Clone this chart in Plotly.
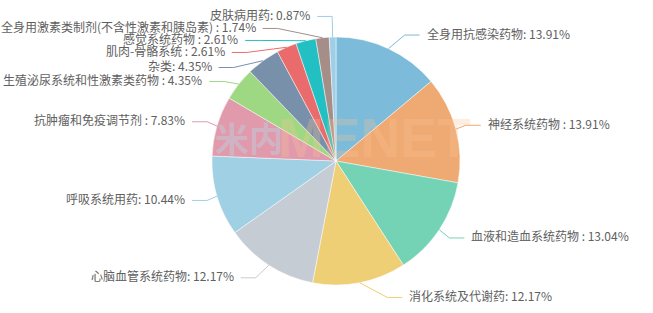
import math
import plotly.graph_objects as go

# ---------------- data ----------------
categories = [
    "全身用抗感染药物", "神经系统药物 ", "血液和造血系统药物 ", "消化系统及代谢药",
    "心脑血管系统药物", "呼吸系统用药", "抗肿瘤和免疫调节剂 ", "生殖泌尿系统和性激素类药物 ",
    "杂类", "肌肉-骨骼系统 ", "感觉系统药物 ", "全身用激素类制剂(不含性激素和胰岛素) ", "皮肤病用药",
]
shares = [13.91, 13.91, 13.04, 12.17, 12.17, 10.44, 7.83, 4.35, 4.35, 2.61, 2.61, 1.74, 0.87]
colors = [
    "#7cbbd9", "#eeaa72", "#75d3b5", "#eecf76", "#c6ccd3", "#9fd0e3", "#e19aac",
    "#9ed883", "#7890aa", "#ea6b6b", "#22bfc3", "#a68e88", "#9ecfe6",
]

# ---------------- geometry ----------------
W, H = 653, 313
CX, CY, R = 336, 161, 124
LEN1, LEN2, DIST, LABEL_H = 15, 15, 5, 12
TEXT_OFFSET = -2
TEXT_COLOR = "#606060"
FONT = "Noto Sans CJK SC, Microsoft YaHei, sans-serif"


def px(x):
    return x / W


def py(y):
    return 1 - y / H


total = sum(shares)
items = []
acc = 0.0
for name, v, c in zip(categories, shares, colors):
    mid = (acc + v / 2) / total * 2 * math.pi
    acc += v
    sx, cy_ = math.sin(mid), -math.cos(mid)
    x1, y1 = CX + R * sx, CY + R * cy_
    x2, y2 = CX + (R + LEN1) * sx, CY + (R + LEN1) * cy_
    d = -1 if sx < 0 else 1
    x3 = x2 + d * LEN2
    items.append(dict(text=f"{name}: {v:.2f}%", color=c, x1=x1, y1=y1,
                      x=x3 + d * DIST, y=y2, dir=d))


def adjust_side(lst, d):
    lst.sort(key=lambda it: it["y"])
    n = len(lst)
    if n == 0:
        return

    def shift_up(end, delta):
        for j in range(end, -1, -1):
            if lst[j]["y"] - delta < 0:
                break
            lst[j]["y"] -= delta
            if j > 0 and lst[j]["y"] > lst[j - 1]["y"] + LABEL_H:
                break

    def shift_down(start, end, delta):
        for j in range(start, end):
            if lst[j]["y"] + delta > H:
                break
            lst[j]["y"] += delta
            if j > start and j + 1 < end and lst[j + 1]["y"] > lst[j]["y"] + LABEL_H:
                shift_up(j, delta / 2)
                return
        shift_up(end - 1, delta / 2)

    last_y = 0
    for i in range(n):
        delta = lst[i]["y"] - last_y
        if delta < 0:
            shift_down(i, n, -delta)
        last_y = lst[i]["y"] + LABEL_H
    if H - last_y < 0:
        shift_up(n - 1, last_y - H)

    def change_x(sub, is_down):
        last = float("inf") if is_down else 0
        for it in sub:
            dy = abs(it["y"] - CY)
            if dy < R + LEN1:
                dx = math.sqrt((R + LEN1 + LEN2) ** 2 - dy ** 2)
            else:
                dx = abs(it["x"] - CX)
            if is_down and dx >= last:
                dx = last - 10
            if (not is_down) and dx <= last:
                dx = last + 10
            it["x"] = CX + dx * d
            last = dx

    change_x([it for it in lst if it["y"] < CY], False)
    change_x([it for it in lst if it["y"] >= CY], True)


adjust_side([it for it in items if it["x"] < CX], -1)
adjust_side([it for it in items if it["x"] >= CX], 1)

fig = go.Figure()
fig.add_trace(go.Pie(
    labels=categories, values=shares, sort=False, direction="clockwise", rotation=0,
    marker=dict(colors=colors, line=dict(color="rgba(255,255,255,0.8)", width=0.6)),
    textinfo="none", hoverinfo="label+percent", showlegend=False,
    domain=dict(x=[px(CX - R), px(CX + R)], y=[py(CY + R), py(CY - R)]),
))

shapes, annotations = [], []
for it in items:
    d = it["dir"]
    p2x = it["x"] - d * DIST
    p1x = p2x - d * LEN2
    path = (f"M {px(it['x1'])},{py(it['y1'])} L {px(p1x)},{py(it['y'])} "
            f"L {px(p2x)},{py(it['y'])}")
    shapes.append(dict(type="path", xref="paper", yref="paper", path=path,
                       line=dict(color=it["color"], width=1)))
    annotations.append(dict(
        x=px(it["x"]), y=py(it["y"] + TEXT_OFFSET), xref="paper", yref="paper",
        text=it["text"], showarrow=False,
        xanchor="right" if d < 0 else "left", yanchor="middle",
        font=dict(size=12, color=TEXT_COLOR, family=FONT),
    ))

# faint watermark
annotations.append(dict(x=px(213), y=py(138), xref="paper", yref="paper", text="<b>米内</b>",
                        showarrow=False, xanchor="left", yanchor="middle",
                        font=dict(size=34, color="rgba(185,212,225,0.45)", family=FONT)))
annotations.append(dict(x=px(276), y=py(138), xref="paper", yref="paper", text="<b>MENET</b>",
                        showarrow=False, xanchor="left", yanchor="middle",
                        font=dict(size=55, color="rgba(250,195,150,0.28)",
                                  family="Liberation Sans, Arial, sans-serif")))

fig.update_layout(
    width=W, height=H, margin=dict(l=0, r=0, t=0, b=0),
    paper_bgcolor="white", plot_bgcolor="white",
    shapes=shapes, annotations=annotations,
)
fig.write_html("out.html")
